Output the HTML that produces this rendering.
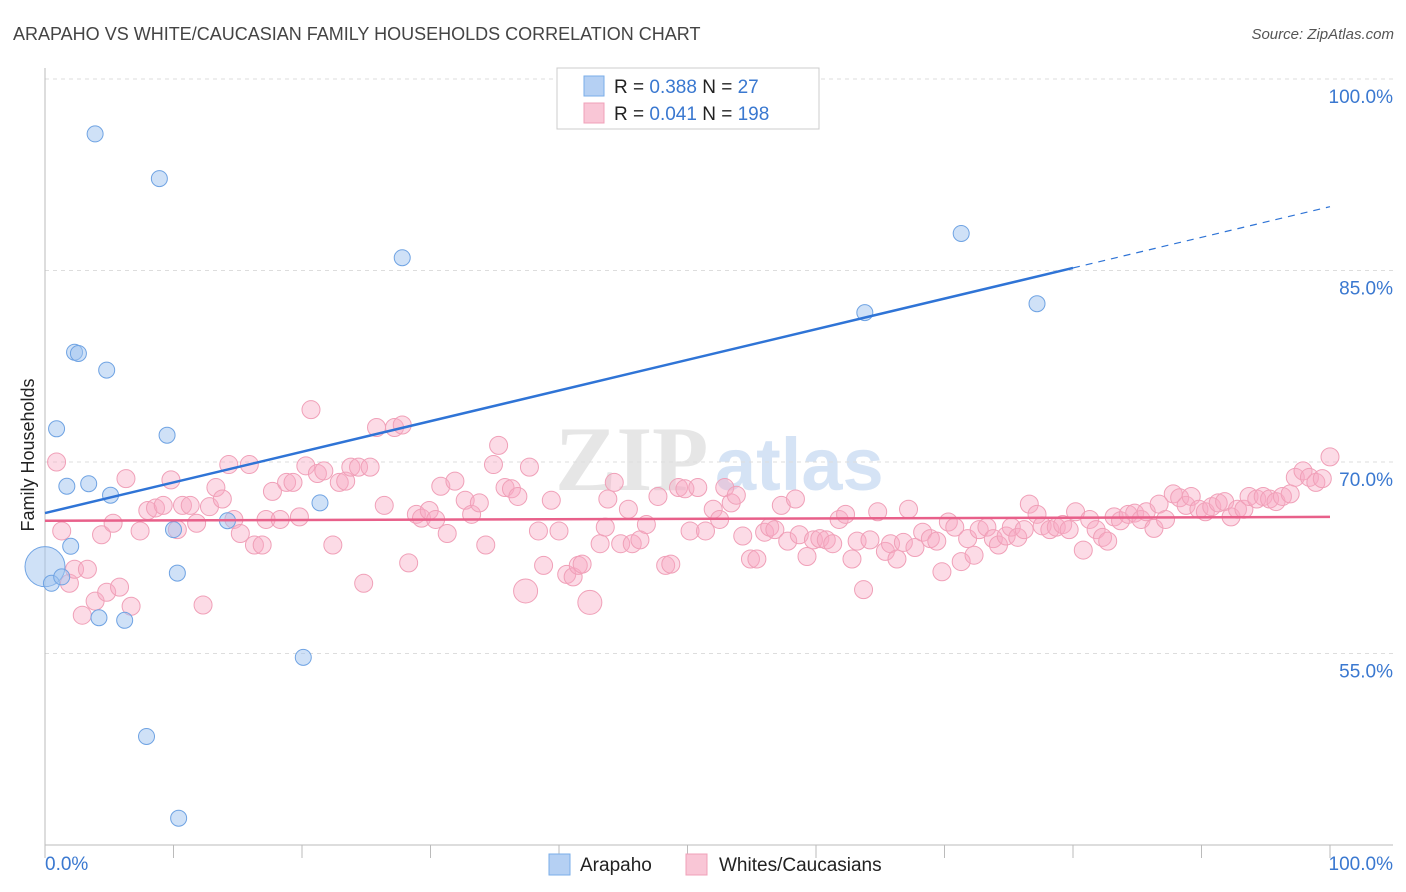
<!DOCTYPE html>
<html><head><meta charset="utf-8"><style>
body{margin:0;background:#fff;font-family:"Liberation Sans",sans-serif;}
svg{display:block}
</style></head><body>
<svg id="chart" width="1406" height="892" xmlns="http://www.w3.org/2000/svg">
<text x="13" y="40" font-size="18" fill="#444">ARAPAHO VS WHITE/CAUCASIAN FAMILY HOUSEHOLDS CORRELATION CHART</text>
<text x="1394" y="39" font-size="15" fill="#555" font-style="italic" text-anchor="end">Source: ZipAtlas.com</text>
<g>
<text x="555" y="490" font-size="92" font-family="Liberation Serif,serif" fill="#e6e6e6" font-weight="bold">ZIP</text>
<text x="715" y="490" font-size="74" fill="#d5e3f5" font-weight="bold">atlas</text>
</g>
<g id="grid"></g>
<g id="axes"></g>
<g id="marks"></g>
<text transform="translate(34,455) rotate(-90)" font-size="18" fill="#222" text-anchor="middle">Family Households</text>
<g>
<rect x="557" y="68" width="262" height="61" fill="#fff" stroke="#ccc"/>
<rect x="584" y="76" width="20" height="20" fill="#b5d0f3" stroke="#7aaee8"/>
<rect x="584" y="103" width="20" height="20" fill="#f9c6d6" stroke="#f0a0b8"/>
<text x="614" y="93" font-size="19" fill="#222">R = <tspan fill="#3a78d0">0.388</tspan>   N = <tspan fill="#3a78d0">  27</tspan></text>
<text x="614" y="120" font-size="19" fill="#222">R = <tspan fill="#3a78d0">0.041</tspan>   N = <tspan fill="#3a78d0">198</tspan></text>
</g>
<g>
<rect x="549" y="854" width="21" height="21" fill="#b5d0f3" stroke="#7aaee8"/>
<text x="580" y="871" font-size="19" fill="#222">Arapaho</text>
<rect x="686" y="854" width="21" height="21" fill="#f9c6d6" stroke="#f0a0b8"/>
<text x="719" y="871" font-size="19" fill="#222">Whites/Caucasians</text>
</g>
</svg>
<script>
const yTicks=[100,85,70,55];
const yTickLabels=["100.0%","85.0%","70.0%","55.0%"];
const xTicks=[0,10,20,30,40,50,60,70,80,90,100];
const blueX=[3.9,8.9,27.8,71.3,63.8,77.2,2.3,2.6,4.8,0.9,9.5,1.7,3.4,5.1,14.2,10.0,21.4,2.0,0,0.5,1.3,4.2,6.2,10.3,20.1,7.9,10.4];
const blueY=[95.7,92.2,86.0,87.9,81.7,82.4,78.6,78.5,77.2,72.6,72.1,68.1,68.3,67.4,65.4,64.7,66.8,63.4,61.8,60.5,61.0,57.8,57.6,61.3,54.7,48.5,42.1];
const blueR=[8,8,8,8,8,8,8,8,8,8,8,8,8,8,8,8,8,8,20,8,8,8,8,8,8,8,8];
const pinkX=[0.9,1.3,1.9,2.3,2.9,3.3,3.9,4.4,4.8,5.3,5.8,6.3,6.7,7.4,8.0,8.6,9.2,9.8,10.3,10.7,11.3,11.8,12.3,12.8,13.3,13.8,14.3,14.7,15.2,15.9,16.3,16.9,17.2,17.7,18.3,18.8,19.3,19.8,20.3,20.7,21.2,21.7,22.4,22.9,23.4,23.8,24.4,24.8,25.3,25.8,26.4,27.2,27.8,28.3,28.9,29.3,29.9,30.4,30.8,31.3,31.9,32.7,33.2,33.8,34.3,34.9,35.3,35.8,36.3,36.8,37.4,37.7,38.4,38.8,39.4,40.0,40.6,41.1,41.5,41.8,42.4,43.2,43.6,43.8,44.3,44.8,45.4,45.7,46.3,46.8,47.7,48.3,48.7,49.3,49.8,50.2,50.8,51.4,52.0,52.5,52.9,53.4,53.8,54.3,54.9,55.4,56.0,56.4,56.8,57.3,57.8,58.4,58.7,59.3,59.8,60.3,60.8,61.3,61.8,62.3,62.8,63.2,63.7,64.2,64.8,65.4,65.8,66.3,66.8,67.2,67.7,68.3,68.9,69.4,69.8,70.3,70.8,71.3,71.8,72.3,72.7,73.3,73.8,74.2,74.8,75.2,75.7,76.2,76.6,77.2,77.6,78.2,78.7,79.2,79.7,80.2,80.8,81.3,81.8,82.3,82.7,83.2,83.7,84.3,84.8,85.3,85.7,86.3,86.7,87.2,87.8,88.3,88.8,89.2,89.8,90.3,90.8,91.3,91.8,92.3,92.8,93.3,93.7,94.3,94.8,95.3,95.8,96.3,96.9,97.3,97.9,98.4,98.9,99.4,100];
const pinkY=[70.0,64.6,60.5,61.6,58.0,61.6,59.1,64.3,59.8,65.2,60.2,68.7,58.7,64.6,66.2,66.4,66.6,68.6,64.7,66.6,66.6,65.2,58.8,66.5,68.0,67.1,69.8,65.5,64.4,69.8,63.5,63.5,65.5,67.7,65.5,68.4,68.4,65.7,69.7,74.1,69.1,69.3,63.5,68.4,68.5,69.6,69.6,60.5,69.6,72.7,66.6,72.7,72.9,62.1,65.9,65.6,66.2,65.5,68.1,64.4,68.5,67.0,65.9,66.8,63.5,69.8,71.3,68.0,67.9,67.3,59.9,69.6,64.6,61.9,67.0,64.6,61.2,61.0,61.9,62.0,59.0,63.6,64.9,67.1,68.4,63.6,66.3,63.6,63.9,65.1,67.3,61.9,62.0,68.0,67.9,64.6,68.0,64.6,66.3,65.5,68.0,66.8,67.4,64.2,62.4,62.4,64.5,64.9,64.7,66.6,63.8,67.1,64.3,62.6,63.9,64.0,63.9,63.6,65.5,65.9,62.4,63.8,60.0,63.9,66.1,63.0,63.6,62.4,63.7,66.3,63.3,64.5,64.0,63.8,61.4,65.3,64.9,62.2,64.0,62.7,64.7,64.9,64.0,63.5,64.2,64.9,64.1,64.7,66.7,65.9,65.0,64.7,64.9,65.1,64.7,66.1,63.1,65.5,64.7,64.1,63.8,65.7,65.4,65.9,66.0,65.5,66.1,64.8,66.7,65.5,67.5,67.2,66.6,67.3,66.3,66.1,66.5,66.8,66.9,65.7,66.3,66.3,67.3,67.1,67.3,67.1,66.9,67.3,67.5,68.8,69.3,68.8,68.4,68.7,70.4];
const blueTrend=[66.0,0.24];   // intercept, slope
const pinkTrend=[65.4,0.003];
const NS="http://www.w3.org/2000/svg";
const X0=45,X1=1330,Y0=845,Y1=79;
function sx(v){return X0+(X1-X0)*v/100;}
function sy(v){return Y0-(Y0-Y1)*(v-40)/60;}
function mk(tag,attrs,parent){const e=document.createElementNS(NS,tag);for(const k in attrs)e.setAttribute(k,attrs[k]);parent.appendChild(e);return e;}
const grid=document.getElementById('grid'),axes=document.getElementById('axes'),marks=document.getElementById('marks');
yTicks.forEach((t,i)=>{
 const l=mk('line',{x1:45,x2:1393,y1:sy(t),y2:sy(t),stroke:'#ddd','stroke-dasharray':'4,4'},grid);
 
 
 const tx=mk('text',{x:1393,y:sy(t)+24,'font-size':19,fill:'#3a78d0','text-anchor':'end'},axes);
 tx.textContent=yTickLabels[i];
 
 
});
const ya=mk('line',{x1:45,x2:45,y1:68,y2:845,stroke:'#bbb'},axes);


const xa=mk('line',{x1:45,x2:1393,y1:845,y2:845,stroke:'#bbb'},axes);


xTicks.forEach(t=>{
 const l=mk('line',{x1:sx(t),x2:sx(t),y1:845,y2:858,stroke:'#bbb'},axes);
 
 
});
const xl0=mk('text',{x:45,y:870,'font-size':19,fill:'#3a78d0'},axes);xl0.textContent='0.0%';


const xl1=mk('text',{x:1393,y:870,'font-size':19,fill:'#3a78d0','text-anchor':'end'},axes);xl1.textContent='100.0%';


pinkX.forEach((x,i)=>{
 const r=(i===70||i===80)?12:9;
 const c=mk('circle',{cx:sx(x),cy:sy(pinkY[i]),r:r,fill:'rgba(247,170,195,0.42)',stroke:'#f0a0b8','stroke-width':1},marks);
 
 
});
blueX.forEach((x,i)=>{
 const c=mk('circle',{cx:sx(x),cy:sy(blueY[i]),r:blueR[i],fill:'rgba(160,195,240,0.5)',stroke:'#6fa3e3','stroke-width':1},marks);
 
 
});
const bl=mk('line',{x1:sx(0),y1:sy(blueTrend[0]),x2:sx(80),y2:sy(blueTrend[0]+blueTrend[1]*80),stroke:'#2f74d6','stroke-width':2.5},marks);


const bd=mk('line',{x1:sx(80),y1:sy(blueTrend[0]+blueTrend[1]*80),x2:sx(100),y2:sy(blueTrend[0]+blueTrend[1]*100),stroke:'#2f74d6','stroke-width':1.2,'stroke-dasharray':'7,6'},marks);


const pl=mk('line',{x1:sx(0),y1:sy(pinkTrend[0]),x2:sx(100),y2:sy(pinkTrend[0]+pinkTrend[1]*100),stroke:'#e8608a','stroke-width':2.5},marks);


</script>
</body></html>
